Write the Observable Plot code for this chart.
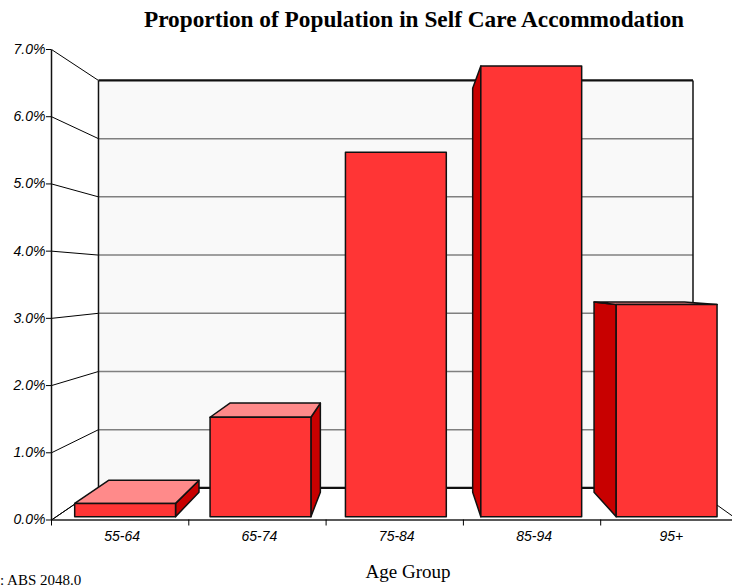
<!DOCTYPE html>
<html><head><meta charset="utf-8">
<script src="https://cdn.jsdelivr.net/npm/d3@7"></script>
<script src="https://cdn.jsdelivr.net/npm/@observablehq/plot@0.6"></script>
<style>
body{margin:0;background:#fff;}
#wrap{position:relative;width:732px;height:585px;overflow:hidden;background:#fff;}
#title{position:absolute;left:414px;top:0;transform:translateX(-50%);white-space:nowrap;font:bold 23.3px "Liberation Serif","Times New Roman",serif;line-height:38px;height:38px;color:#000;}
#chart{position:absolute;left:0;top:38px;}
#xlabel{position:absolute;left:408px;top:562px;transform:translateX(-50%);white-space:nowrap;font:19px "Liberation Serif","Times New Roman",serif;line-height:19px;color:#000;}
#source{position:absolute;left:-42px;top:573px;white-space:nowrap;font:15px "Liberation Serif","Times New Roman",serif;line-height:15px;color:#000;}
</style>
</head><body>
<div id="wrap">
  <div id="title">Proportion of Population in Self Care Accommodation</div>
  <div id="chart"></div>
  <div id="xlabel">Age Group</div>
  <div id="source"><span id="srcword">Source</span>: ABS 2048.0</div>
</div>
<script>
// ---- data ----
const categories = ["55-64", "65-74", "75-84", "85-94", "95+"];
const values = [0.2, 1.5, 5.5, 6.8, 3.2];           // percent
const yTicks = [0, 1, 2, 3, 4, 5, 6, 7];
const yTickLabels = ["0.0%", "1.0%", "2.0%", "3.0%", "4.0%", "5.0%", "6.0%", "7.0%"];

// ---- 3D geometry (perspective in data units) ----
const N = categories.length, VMAX = 7;
const VP = {u: 2.554, v: 3.563};          // vanishing point
const R_BACK = 0.866;                      // back wall scale
const R_BAR_FRONT = 0.986, R_BAR_BACK = 0.884;
const BAR_OFF = 0.135, BAR_W = 0.745;
const proj = (u, v, r) => ({x: VP.u + r * (u - VP.u), y: VP.v + r * (v - VP.v)});
const seg = (a, b) => ({x1: a.x, y1: a.y, x2: b.x, y2: b.y});
const poly = (id, pts) => pts.concat([pts[0]]).map(([u, v, r]) => ({id, ...proj(u, v, r)}));

const frontFaces = [], topFaces = [], sideFaces = [];
values.forEach((val, i) => {
  const u0 = i + BAR_OFF, u1 = u0 + BAR_W, rf = R_BAR_FRONT, rb = R_BAR_BACK;
  frontFaces.push(...poly("f" + i, [[u0, 0, rf], [u1, 0, rf], [u1, val, rf], [u0, val, rf]]));
  if (val < VP.v) topFaces.push(...poly("t" + i, [[u0, val, rf], [u1, val, rf], [u1, val, rb], [u0, val, rb]]));
  if (u1 < VP.u) sideFaces.push(...poly("s" + i, [[u1, 0, rf], [u1, 0, rb], [u1, val, rb], [u1, val, rf]]));
  else if (u0 > VP.u) sideFaces.push(...poly("s" + i, [[u0, 0, rf], [u0, 0, rb], [u0, val, rb], [u0, val, rf]]));
});

const backWall = poly("bw", [[0, 0, R_BACK], [N, 0, R_BACK], [N, VMAX, R_BACK], [0, VMAX, R_BACK]]);
const leftDiag = yTicks.map(t => seg(proj(0, t, 1), proj(0, t, R_BACK)));
const backGrid = yTicks.filter(t => t > 0 && t < VMAX).map(t => seg(proj(0, t, R_BACK), proj(N, t, R_BACK)));
const backEdges = [0, VMAX].map(t => seg(proj(0, t, R_BACK), proj(N, t, R_BACK)));
const verticals = [
  seg(proj(0, 0, R_BACK), proj(0, VMAX, R_BACK)),
  seg(proj(N, 0, R_BACK), proj(N, VMAX, R_BACK)),
  seg(proj(0, 0, 1), proj(0, VMAX, 1))
];
const floorFront = [seg(proj(0, 0, 1), proj(N, 0, 1))];
const floorDiag = [seg(proj(0, 0, 1), proj(0, 0, R_BACK)), seg(proj(N, 0, 1), proj(N, 0, R_BACK))];

const H = 547;
const font = "'Liberation Sans', Arial, sans-serif";
const chart = Plot.plot({
  width: 732, height: H,
  marginLeft: 51, marginRight: 0, marginTop: 11, marginBottom: H - 481.5,
  x: {type: "linear", domain: [0, N], range: [51, 737.5]},
  y: {type: "linear", domain: [0, VMAX], range: [481.5, 11]},
  style: {background: "white", color: "black", overflow: "hidden"},
  marks: [
    Plot.line(backWall, {x: "x", y: "y", z: "id", fill: "#f9f9f9", stroke: "none"}),
    Plot.link(backGrid, {x1: "x1", y1: "y1", x2: "x2", y2: "y2", stroke: "#808080", strokeWidth: 1.5}),
    Plot.link(leftDiag, {x1: "x1", y1: "y1", x2: "x2", y2: "y2", stroke: "#000", strokeWidth: 1}),
    Plot.link(floorDiag, {x1: "x1", y1: "y1", x2: "x2", y2: "y2", stroke: "#000", strokeWidth: 1}),
    Plot.link(floorFront, {x1: "x1", y1: "y1", x2: "x2", y2: "y2", stroke: "#222", strokeWidth: 1.5}),
    Plot.link(backEdges, {x1: "x1", y1: "y1", x2: "x2", y2: "y2", stroke: "#111", strokeWidth: 2.2}),
    Plot.link(verticals, {x1: "x1", y1: "y1", x2: "x2", y2: "y2", stroke: "#111", strokeWidth: 1.5}),
    Plot.line(sideFaces, {x: "x", y: "y", z: "id", fill: "#c80000", stroke: "#111", strokeWidth: 1.5, strokeLinejoin: "round"}),
    Plot.line(topFaces, {x: "x", y: "y", z: "id", fill: "#ff8a8a", stroke: "#111", strokeWidth: 1.5, strokeLinejoin: "round"}),
    Plot.line(frontFaces, {x: "x", y: "y", z: "id", fill: "#ff3535", stroke: "#111", strokeWidth: 1.5, strokeLinejoin: "round"}),
    Plot.axisY(yTicks, {tickSize: 5, tickPadding: 1, tickFormat: d => yTickLabels[d], fontSize: 14, fontStyle: "italic", fontFamily: font, label: null, stroke: "#000"}),
    Plot.axisX(d3.range(N + 1), {tickSize: 6, tickFormat: () => "", label: null}),
    Plot.axisX(categories.map((c, i) => i + 0.5), {tickSize: 0, tickPadding: 11.5, tickFormat: d => categories[Math.floor(d)], fontSize: 14, fontStyle: "italic", fontFamily: font, dx: 2, label: null})
  ]
});
document.getElementById("chart").appendChild(chart);
// position source so that the word before ':' sits just left of the page edge
const sw = document.getElementById("srcword").getBoundingClientRect().width;
document.getElementById("source").style.left = (-sw) + "px";
</script>
</body></html>
